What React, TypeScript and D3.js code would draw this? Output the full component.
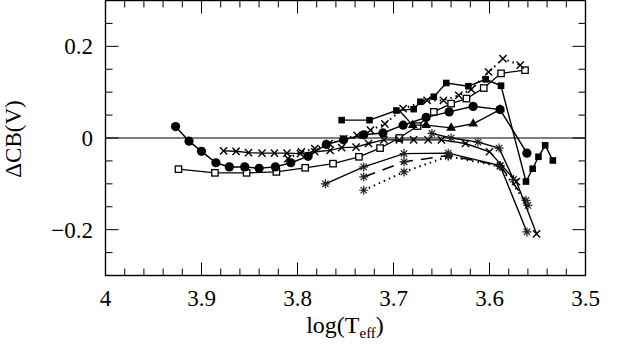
import React from "react";
import * as d3 from "d3";

const W = 618;
const H = 345;

const xMajorTicks = [4, 3.9, 3.8, 3.7, 3.6, 3.5];
const xTickLabels = ["4", "3.9", "3.8", "3.7", "3.6", "3.5"];
const yMajorTicks = [-0.2, 0, 0.2];
const yTickLabels = ["\u22120.2", "0", "0.2"];

const circlesSolid: [number, number][] = [
  [3.927, 0.025], [3.913, -0.007], [3.900, -0.029], [3.885, -0.054], [3.871, -0.063],
  [3.855, -0.063], [3.840, -0.066], [3.823, -0.063], [3.807, -0.054], [3.789, -0.040],
  [3.770, -0.014], [3.752, -0.004], [3.731, 0.007], [3.711, 0.011], [3.690, 0.028],
  [3.666, 0.045], [3.642, 0.057], [3.617, 0.069], [3.589, 0.062], [3.561, -0.033],
];
const openSquaresSolid: [number, number][] = [
  [3.924, -0.068], [3.886, -0.076], [3.853, -0.076], [3.822, -0.074], [3.792, -0.065],
  [3.763, -0.056], [3.736, -0.041], [3.714, -0.022], [3.694, 0.000], [3.675, 0.026],
  [3.658, 0.057], [3.640, 0.075], [3.624, 0.086], [3.606, 0.109], [3.588, 0.141],
  [3.563, 0.148],
];
const filledSquaresSolid: [number, number][] = [
  [3.754, 0.039], [3.725, 0.039], [3.697, 0.060], [3.679, 0.063], [3.672, 0.079],
  [3.658, 0.090], [3.645, 0.120], [3.622, 0.113], [3.604, 0.128], [3.588, 0.114],
  [3.562, -0.095], [3.555, -0.067], [3.549, -0.041], [3.542, -0.016], [3.534, -0.049],
];
const crossesSolid: [number, number][] = [
  [3.877, -0.028], [3.864, -0.029], [3.851, -0.032], [3.837, -0.033], [3.824, -0.033],
  [3.811, -0.033], [3.797, -0.034], [3.782, -0.030], [3.766, -0.027], [3.754, -0.021],
  [3.739, -0.020], [3.726, -0.012], [3.710, -0.004], [3.694, -0.004], [3.679, -0.004],
  [3.664, -0.004], [3.650, -0.004], [3.625, -0.012], [3.600, -0.030], [3.572, -0.095],
  [3.551, -0.209],
];
const crossesDotted: [number, number][] = [
  [3.810, -0.045], [3.796, -0.030], [3.782, -0.023], [3.767, -0.012], [3.752, -0.002],
  [3.738, 0.006], [3.724, 0.017], [3.709, 0.031], [3.690, 0.064], [3.665, 0.082],
  [3.648, 0.082], [3.632, 0.093], [3.619, 0.106], [3.601, 0.144], [3.586, 0.173],
  [3.568, 0.159],
];
const trianglesSolid: [number, number][] = [
  [3.695, 0.062], [3.680, 0.028], [3.666, 0.028], [3.640, 0.022], [3.617, 0.031],
  [3.589, 0.062],
];
const asterisksUpperSolid: [number, number][] = [
  [3.660, 0.010], [3.640, 0.000], [3.612, -0.009],
  [3.590, -0.022], [3.575, -0.090],
];
const asterisksSolid: [number, number][] = [
  [3.771, -0.100], [3.731, -0.063], [3.689, -0.034], [3.643, -0.033], [3.589, -0.060],
  [3.561, -0.205],
];
const asterisksDashed: [number, number][] = [
  [3.731, -0.085], [3.689, -0.052], [3.643, -0.038], [3.589, -0.060], [3.562, -0.136],
];
const asterisksDotted: [number, number][] = [
  [3.731, -0.114], [3.689, -0.074], [3.643, -0.040], [3.589, -0.062], [3.560, -0.147],
];

type Sym = "circle" | "openSquare" | "filledSquare" | "cross" | "triangle" | "asterisk" | "none";
type Series = { data: [number, number][]; sym: Sym; dash: string; width: number; skipFirst?: boolean };

const seriesList: Series[] = [
  { data: openSquaresSolid, sym: "openSquare", dash: "", width: 1.3 },
  { data: asterisksDotted, sym: "asterisk", dash: "1.5 4", width: 2 },
  { data: asterisksDashed, sym: "asterisk", dash: "12 8", width: 1.5 },
  { data: asterisksSolid, sym: "asterisk", dash: "", width: 1.4 },
  { data: asterisksUpperSolid, sym: "asterisk", dash: "", width: 1.4 },
  { data: crossesSolid, sym: "cross", dash: "", width: 1.4 },
  { data: crossesDotted, sym: "cross", dash: "1.5 4", width: 2 },
  { data: trianglesSolid, sym: "triangle", dash: "", width: 1.4, skipFirst: true },
  { data: filledSquaresSolid, sym: "filledSquare", dash: "", width: 1.4 },
  { data: circlesSolid, sym: "circle", dash: "", width: 1.5 },
];

const x = d3.scaleLinear().domain([4, 3.5]).range([105.5, 585.5]);
const y = d3.scaleLinear().domain([-0.3, 0.3]).range([275.5, 0.5]);

function Marker({ sym, cx, cy }: { sym: Sym; cx: number; cy: number }) {
  switch (sym) {
    case "circle":
      return <circle cx={cx} cy={cy} r={4.6} fill="#000" />;
    case "openSquare":
      return <rect x={cx - 3.2} y={cy - 3.2} width={6.4} height={6.4} fill="#fff" stroke="#000" strokeWidth={1.3} />;
    case "filledSquare":
      return <rect x={cx - 3.3} y={cy - 3.3} width={6.6} height={6.6} fill="#000" />;
    case "triangle":
      return <path d={d3.symbol(d3.symbolTriangle, 40)() || ""} transform={`translate(${cx},${cy})`} fill="#000" />;
    case "cross": {
      const s = 3.6;
      return (
        <path d={`M${cx - s},${cy - s}L${cx + s},${cy + s}M${cx - s},${cy + s}L${cx + s},${cy - s}`} stroke="#000" strokeWidth={1.4} fill="none" />
      );
    }
    case "asterisk": {
      const r = 4.5;
      const parts: string[] = [];
      for (let i = 0; i < 4; i++) {
        const a = (i * Math.PI) / 4;
        const dx = r * Math.cos(a);
        const dy = r * Math.sin(a);
        parts.push(`M${cx - dx},${cy - dy}L${cx + dx},${cy + dy}`);
      }
      return <path d={parts.join("")} stroke="#222" strokeWidth={1.2} fill="none" />;
    }
  }
  return null;
}

export default function App() {
  const line = d3
    .line<[number, number]>()
    .x((d) => x(d[0]))
    .y((d) => y(d[1]));

  const xMinor = d3.range(0, 26).map((i) => 4 - i * 0.02);
  const yMinor = d3.range(0, 13).map((i) => -0.3 + i * 0.05);
  const font = "'Liberation Serif', 'DejaVu Serif', serif";
  const [x0, x1] = x.range();
  const [yb, yt] = y.range();

  return (
    <svg width={W} height={H} style={{ position: "absolute", left: 0, top: 0, background: "#fff" }} fontFamily={font}>
      <rect x={0} y={0} width={W} height={H} fill="#fff" />
      <line x1={x0} x2={x1} y1={y(0)} y2={y(0)} stroke="#000" strokeWidth={1.2} />
      {seriesList.map((s, i) => (
        <g key={i}>
          <path d={line(s.data) || ""} fill="none" stroke="#000" strokeWidth={s.width} strokeDasharray={s.dash || undefined} />
          {s.data.map((d, j) =>
            s.skipFirst && j === 0 ? null : <Marker key={j} sym={s.sym} cx={x(d[0])} cy={y(d[1])} />
          )}
        </g>
      ))}
      <rect x={x0} y={yt} width={x1 - x0} height={yb - yt} fill="none" stroke="#000" strokeWidth={1.4} />
      {xMinor.map((v, i) => {
        const major = i % 5 === 0;
        const len = major ? 13 : 7;
        return (
          <g key={"xm" + i}>
            <line x1={x(v)} x2={x(v)} y1={yb} y2={yb - len} stroke="#000" strokeWidth={1} />
            <line x1={x(v)} x2={x(v)} y1={yt} y2={yt + len} stroke="#000" strokeWidth={1} />
          </g>
        );
      })}
      {yMinor.map((v, i) => {
        const major = Math.abs(Math.round(v * 100)) % 20 === 0 && Math.abs(v) < 0.25;
        const len = major ? 13 : 7;
        return (
          <g key={"ym" + i}>
            <line x1={x0} x2={x0 + len} y1={y(v)} y2={y(v)} stroke="#000" strokeWidth={1} />
            <line x1={x1} x2={x1 - len} y1={y(v)} y2={y(v)} stroke="#000" strokeWidth={1} />
          </g>
        );
      })}
      {xMajorTicks.map((v, i) => (
        <text key={"xl" + i} x={x(v)} y={306} textAnchor="middle" fontSize={23} fill="#000">
          {xTickLabels[i]}
        </text>
      ))}
      {yMajorTicks.map((v, i) => (
        <text key={"yl" + i} x={93} y={y(v)} dy="0.35em" textAnchor="end" fontSize={23} fill="#000">
          {yTickLabels[i]}
        </text>
      ))}
      <text x={345} y={333} textAnchor="middle" fontSize={24} fill="#000">
        log(T<tspan fontSize={15} dy={5}>eff</tspan>
        <tspan dy={-5}>)</tspan>
      </text>
      <text transform={`translate(21,139) rotate(-90)`} textAnchor="middle" fontSize={23} fill="#000">
        ΔCB(V)
      </text>
    </svg>
  );
}
